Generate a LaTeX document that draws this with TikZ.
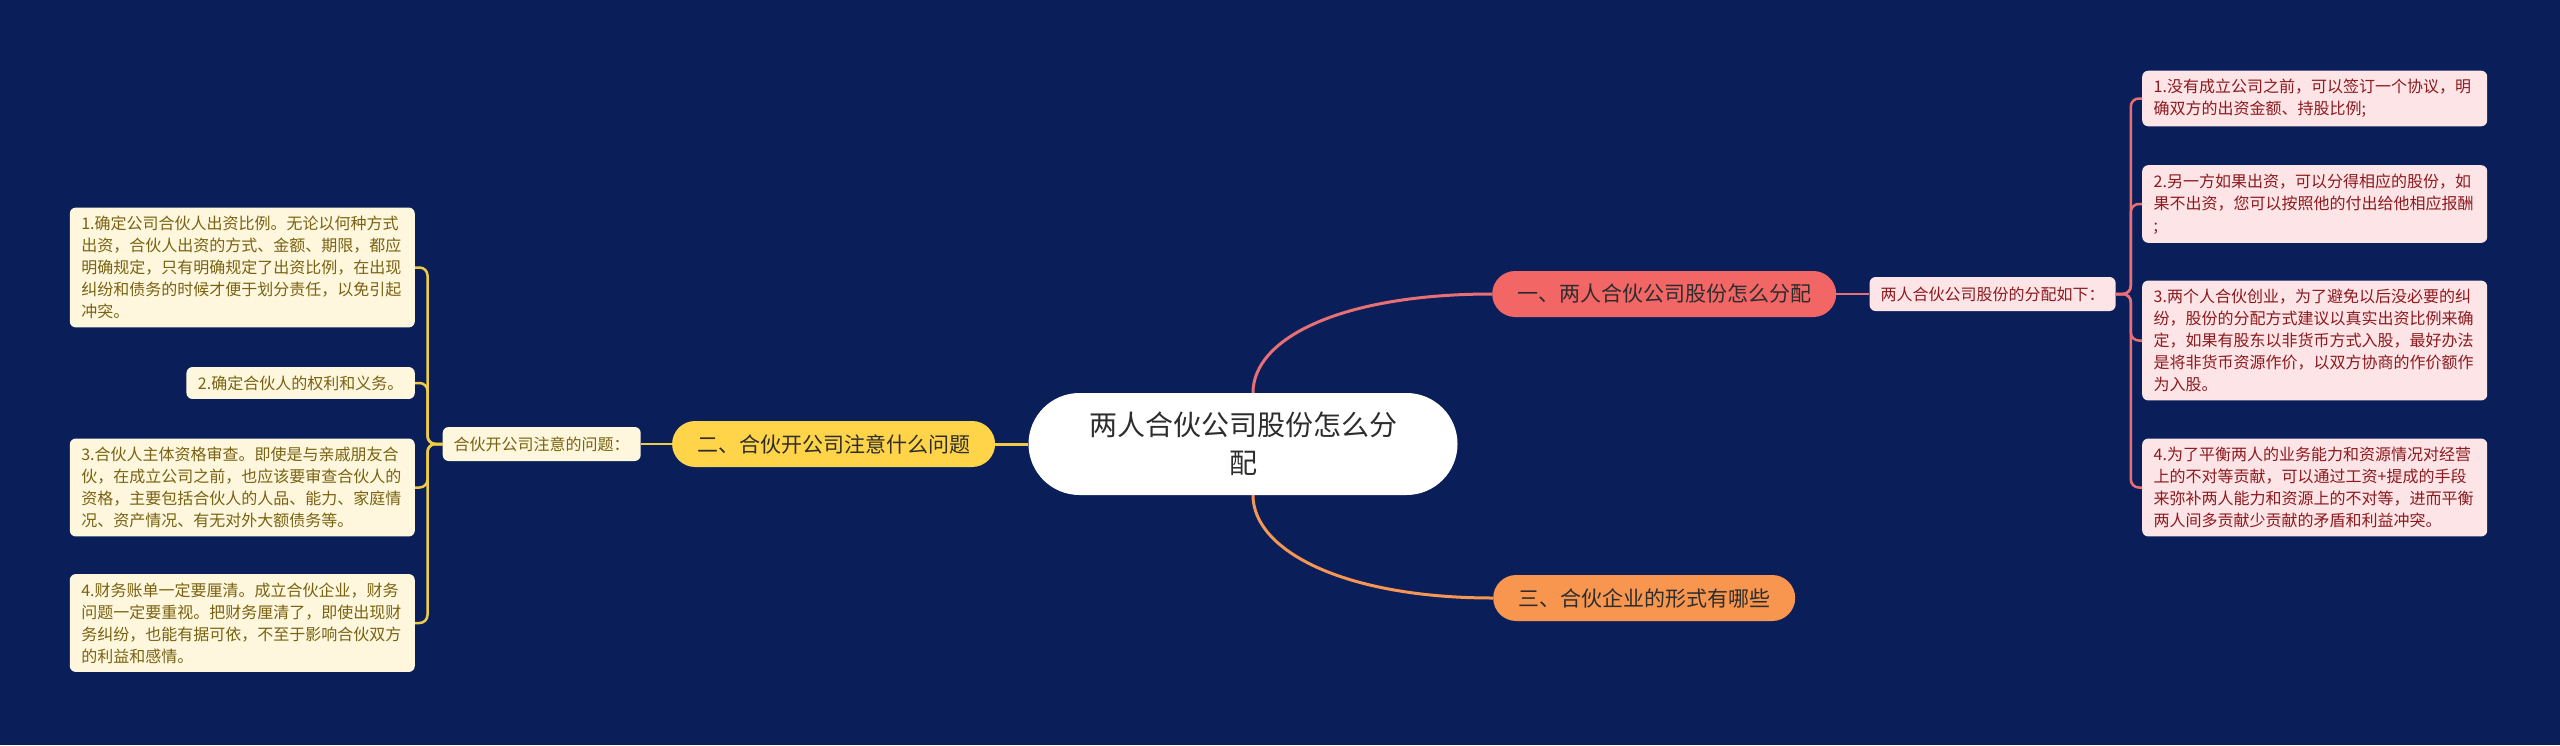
\documentclass[tikz,border=0pt]{standalone}
\usepackage{fontspec}
\setmainfont{Noto Sans CJK SC}
\usetikzlibrary{positioning}

\definecolor{bgnavy}{RGB}{10,31,90}
\definecolor{roottext}{RGB}{45,45,45}
\definecolor{redbranch}{RGB}{243,102,102}
\definecolor{redline}{RGB}{232,112,116}
\definecolor{redleaf}{RGB}{253,228,230}
\definecolor{redtext}{RGB}{140,26,30}
\definecolor{yellowbranch}{RGB}{255,212,72}
\definecolor{yellowline}{RGB}{240,204,70}
\definecolor{yellowleaf}{RGB}{255,247,221}
\definecolor{yellowtext}{RGB}{120,98,18}
\definecolor{orangebranch}{RGB}{248,150,80}
\definecolor{orangeline}{RGB}{245,150,85}

\tikzset{
  branch/.style={rectangle, rounded corners=23pt, minimum height=46pt, inner xsep=25pt, text=roottext, font=\fontsize{21}{21}\selectfont},
  subnode/.style={rectangle, rounded corners=6pt, minimum height=34pt, inner xsep=11pt, font=\fontsize{16}{16}\selectfont},
  leaf/.style={rectangle, rounded corners=6pt, inner xsep=11.5pt, inner ysep=8.5pt, align=left, font=\fontsize{16}{22}\selectfont},
  redleafbox/.style={leaf, fill=redleaf, text=redtext, text width=322pt},
  yellowleafbox/.style={leaf, fill=yellowleaf, text=yellowtext},
  redconn/.style={draw=redline, line width=2.5pt, rounded corners=8pt},
  yellowconn/.style={draw=yellowline, line width=2.5pt, rounded corners=8pt}
}

\begin{document}
\begin{tikzpicture}[x=1pt, y=-1pt]
    \fill [bgnavy] (0,0) rectangle (2560,745);
    \useasboundingbox (0,0) rectangle (2560,745);

    % centre and main branches
    \node [rectangle, rounded corners=51pt, minimum width=429pt, minimum height=102pt, fill=white, text=roottext, align=center, font=\fontsize{28}{38}\selectfont] (root) at (1243,444) {两人合伙公司股份怎么分\\配};
    \node [branch, fill=redbranch, anchor=west] (b1) at (1492,294) {一、两人合伙公司股份怎么分配};
    \node [branch, fill=yellowbranch, left=33pt of root] (b2) {二、合伙开公司注意什么问题};
    \node [branch, fill=orangebranch, anchor=west] (b3) at (1493,598) {三、合伙企业的形式有哪些};

    \node [subnode, fill=redleaf, text=redtext, right=33pt of b1] (s1) {两人合伙公司股份的分配如下：};
    \node [subnode, fill=yellowleaf, text=yellowtext, left=31pt of b2] (s2) {合伙开公司注意的问题：};

    % right leaves
    \node [redleafbox, anchor=west] (r1) at (2142,98.5) {1.没有成立公司之前，可以签订一个协议，明\\确双方的出资金额、持股比例;};
    \node [redleafbox, anchor=west] (r2) at (2142,204) {2.另一方如果出资，可以分得相应的股份，如\\果不出资，您可以按照他的付出给他相应报酬\\;};
    \node [redleafbox, anchor=west] (r3) at (2142,340.5) {3.两个人合伙创业，为了避免以后没必要的纠\\纷，股份的分配方式建议以真实出资比例来确\\定，如果有股东以非货币方式入股，最好办法\\是将非货币资源作价，以双方协商的作价额作\\为入股。};
    \node [redleafbox, anchor=west] (r4) at (2142,487.5) {4.为了平衡两人的业务能力和资源情况对经营\\上的不对等贡献，可以通过工资+提成的手段\\来弥补两人能力和资源上的不对等，进而平衡\\两人间多贡献少贡献的矛盾和利益冲突。};

    % left leaves
    \node [yellowleafbox, text width=322pt, anchor=east] (l1) at (415,267.5) {1.确定公司合伙人出资比例。无论以何种方式\\出资，合伙人出资的方式、金额、期限，都应\\明确规定，只有明确规定了出资比例，在出现\\纠纷和债务的时候才便于划分责任，以免引起\\冲突。};
    \node [yellowleafbox, anchor=east] (l2) at (415,383) {2.确定合伙人的权利和义务。};
    \node [yellowleafbox, text width=322pt, anchor=east] (l3) at (415,487.5) {3.合伙人主体资格审查。即使是与亲戚朋友合\\伙，在成立公司之前，也应该要审查合伙人的\\资格，主要包括合伙人的人品、能力、家庭情\\况、资产情况、有无对外大额债务等。};
    \node [yellowleafbox, text width=322pt, anchor=east] (l4) at (415,623) {4.财务账单一定要厘清。成立合伙企业，财务\\问题一定要重视。把财务厘清了，即使出现财\\务纠纷，也能有据可依，不至于影响合伙双方\\的利益和感情。};

    % connectors
    \draw [draw=redline, line width=3pt] ([xshift=10pt]root.north) .. controls +(0,-55) and +(-150,0) .. (b1.west);
    \draw [draw=orangeline, line width=3pt] ([xshift=10pt]root.south) .. controls +(0,55) and +(-150,0) .. (b3.west);
    \draw [draw=yellowline, line width=3pt] (root.west) -- (b2.east);
    \draw [redconn] (b1.east) -- (s1.west);
    \draw [yellowconn] (b2.west) -- (s2.east);
    \foreach \n in {r1,r2,r3,r4}
        \draw [redconn] (s1.east) -- ++(15,0) |- (\n.west);
    \foreach \n in {l1,l2,l3,l4}
        \draw [yellowconn] (s2.west) -- ++(-15,0) |- (\n.east);
\end{tikzpicture}
\end{document}
